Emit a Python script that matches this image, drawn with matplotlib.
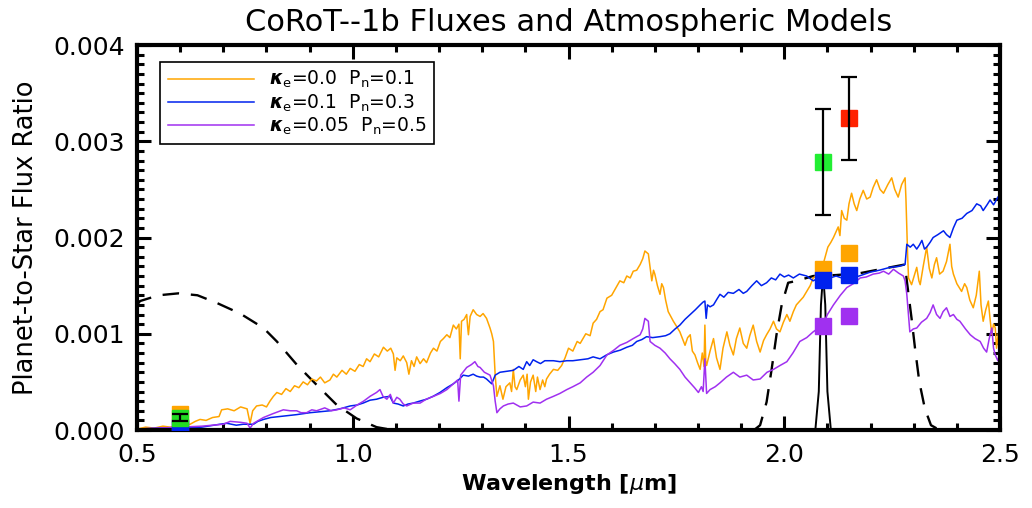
import numpy as np
import matplotlib
matplotlib.use("Agg")
import matplotlib.pyplot as plt
from matplotlib.ticker import MultipleLocator, FormatStrFormatter

# model spectra: (wavelength [um], flux ratio [1e-3])
spec_k00 = np.array([
    (0.500, 0.01), (0.520, 0.03), (0.540, 0.02), (0.560, 0.04), (0.577, 0.03), (0.600, 0.05),
    (0.623, 0.06), (0.635, 0.09), (0.646, 0.11), (0.660, 0.10), (0.675, 0.13), (0.690, 0.14),
    (0.696, 0.21), (0.710, 0.22), (0.725, 0.20), (0.740, 0.24), (0.755, 0.22), (0.762, 0.07),
    (0.768, 0.20), (0.777, 0.25), (0.790, 0.26), (0.800, 0.24), (0.808, 0.30), (0.816, 0.35),
    (0.824, 0.39), (0.835, 0.37), (0.845, 0.43), (0.855, 0.40), (0.865, 0.46), (0.875, 0.44),
    (0.885, 0.50), (0.895, 0.47), (0.905, 0.53), (0.916, 0.51), (0.925, 0.55), (0.935, 0.49),
    (0.947, 0.52), (0.955, 0.58), (0.963, 0.55), (0.975, 0.62), (0.985, 0.58), (0.994, 0.64),
    (1.005, 0.61), (1.015, 0.68), (1.024, 0.66), (1.032, 0.74), (1.040, 0.71), (1.050, 0.79),
    (1.060, 0.76), (1.071, 0.86), (1.080, 0.82), (1.088, 0.85), (1.094, 0.79), (1.098, 0.62),
    (1.102, 0.75), (1.110, 0.72), (1.117, 0.77), (1.125, 0.70), (1.130, 0.58), (1.136, 0.72),
    (1.142, 0.66), (1.148, 0.76), (1.156, 0.69), (1.164, 0.74), (1.171, 0.70), (1.180, 0.80),
    (1.187, 0.85), (1.195, 0.82), (1.203, 0.92), (1.210, 0.95), (1.218, 0.99), (1.225, 0.96),
    (1.233, 1.09), (1.240, 1.05), (1.246, 1.10), (1.249, 0.74), (1.252, 1.13), (1.258, 1.15),
    (1.264, 1.20), (1.266, 1.08), (1.268, 0.99), (1.272, 1.18), (1.279, 1.25), (1.287, 1.20),
    (1.295, 1.18), (1.302, 1.21), (1.310, 1.16), (1.318, 1.06), (1.322, 1.00), (1.326, 0.92),
    (1.330, 0.57), (1.334, 0.35), (1.341, 0.46), (1.345, 0.38), (1.348, 0.32), (1.355, 0.45),
    (1.364, 0.49), (1.368, 0.40), (1.372, 0.63), (1.376, 0.45), (1.380, 0.42), (1.388, 0.52),
    (1.395, 0.57), (1.400, 0.45), (1.404, 0.58), (1.407, 0.32), (1.412, 0.50), (1.418, 0.57),
    (1.424, 0.40), (1.428, 0.55), (1.434, 0.42), (1.440, 0.52), (1.445, 0.45), (1.449, 0.53),
    (1.456, 0.58), (1.465, 0.63), (1.475, 0.62), (1.484, 0.67), (1.492, 0.75), (1.500, 0.85),
    (1.510, 0.82), (1.520, 0.92), (1.527, 0.90), (1.540, 1.00), (1.550, 0.98), (1.557, 1.11),
    (1.565, 1.15), (1.573, 1.23), (1.580, 1.25), (1.589, 1.37), (1.600, 1.40), (1.610, 1.48),
    (1.619, 1.55), (1.628, 1.53), (1.635, 1.60), (1.643, 1.58), (1.650, 1.65), (1.658, 1.66),
    (1.666, 1.72), (1.672, 1.78), (1.677, 1.86), (1.685, 1.83), (1.690, 1.65), (1.693, 1.55),
    (1.697, 1.66), (1.700, 1.62), (1.706, 1.50), (1.712, 1.41), (1.716, 1.52), (1.720, 1.48),
    (1.725, 1.35), (1.731, 1.23), (1.737, 1.18), (1.743, 1.13), (1.750, 1.08), (1.758, 1.02),
    (1.764, 0.95), (1.770, 0.88), (1.776, 0.96), (1.782, 0.99), (1.787, 0.82), (1.793, 0.78),
    (1.799, 0.70), (1.805, 0.63), (1.810, 0.80), (1.814, 0.66), (1.816, 1.09), (1.818, 0.72),
    (1.820, 0.67), (1.828, 0.82), (1.836, 0.95), (1.843, 0.75), (1.851, 0.63), (1.858, 0.85),
    (1.867, 1.02), (1.874, 0.88), (1.882, 0.78), (1.889, 0.95), (1.897, 1.06), (1.905, 0.90),
    (1.913, 0.85), (1.920, 0.98), (1.928, 1.09), (1.936, 0.92), (1.944, 0.81), (1.952, 0.93),
    (1.959, 0.99), (1.967, 1.05), (1.975, 1.13), (1.982, 1.05), (1.990, 1.02), (1.998, 1.12),
    (2.006, 1.20), (2.013, 1.13), (2.021, 1.23), (2.028, 1.30), (2.036, 1.34), (2.044, 1.38),
    (2.052, 1.44), (2.060, 1.50), (2.067, 1.58), (2.078, 1.62), (2.090, 1.72), (2.095, 1.80),
    (2.101, 1.90), (2.108, 1.95), (2.114, 2.00), (2.120, 2.06), (2.125, 2.11), (2.129, 2.02),
    (2.133, 2.28), (2.139, 2.20), (2.145, 2.18), (2.150, 2.35), (2.156, 2.46), (2.162, 2.35),
    (2.168, 2.28), (2.175, 2.40), (2.183, 2.49), (2.191, 2.40), (2.199, 2.42), (2.206, 2.52),
    (2.214, 2.60), (2.222, 2.50), (2.230, 2.46), (2.240, 2.55), (2.249, 2.62), (2.256, 2.50),
    (2.264, 2.42), (2.272, 2.55), (2.280, 2.62), (2.282, 2.40), (2.284, 2.11), (2.286, 1.80),
    (2.288, 1.58), (2.295, 1.51), (2.301, 1.60), (2.307, 1.69), (2.312, 1.55), (2.315, 1.51),
    (2.322, 1.70), (2.330, 1.90), (2.336, 1.68), (2.342, 1.58), (2.348, 1.72), (2.353, 1.79),
    (2.360, 1.62), (2.368, 1.65), (2.376, 1.75), (2.384, 1.93), (2.388, 1.70), (2.392, 1.62),
    (2.400, 1.52), (2.411, 1.44), (2.418, 1.52), (2.423, 1.48), (2.430, 1.35), (2.438, 1.27),
    (2.445, 1.40), (2.452, 1.65), (2.456, 1.30), (2.461, 1.13), (2.467, 1.25), (2.473, 1.34),
    (2.477, 1.15), (2.481, 0.99), (2.485, 1.10), (2.489, 1.06), (2.492, 0.85), (2.496, 1.00),
    (2.500, 0.92),
])

spec_k01 = np.array([
    (0.500, 0.01), (0.550, 0.02), (0.600, 0.02), (0.650, 0.03), (0.692, 0.06), (0.708, 0.07),
    (0.730, 0.05), (0.746, 0.06), (0.770, 0.06), (0.780, 0.09), (0.793, 0.11), (0.810, 0.13),
    (0.831, 0.14), (0.850, 0.15), (0.870, 0.16), (0.885, 0.17), (0.901, 0.18), (0.925, 0.19),
    (0.947, 0.20), (0.970, 0.22), (0.994, 0.25), (1.010, 0.26), (1.024, 0.28), (1.040, 0.31),
    (1.055, 0.32), (1.070, 0.34), (1.086, 0.35), (1.094, 0.28), (1.105, 0.27), (1.117, 0.25),
    (1.128, 0.27), (1.140, 0.28), (1.155, 0.30), (1.171, 0.32), (1.186, 0.35), (1.202, 0.39),
    (1.218, 0.44), (1.233, 0.48), (1.245, 0.52), (1.256, 0.57), (1.268, 0.56), (1.279, 0.58),
    (1.287, 0.56), (1.295, 0.55), (1.303, 0.55), (1.310, 0.53), (1.322, 0.48), (1.330, 0.57),
    (1.341, 0.60), (1.356, 0.61), (1.372, 0.62), (1.385, 0.66), (1.395, 0.63), (1.403, 0.71),
    (1.410, 0.67), (1.418, 0.73), (1.426, 0.71), (1.435, 0.69), (1.445, 0.72), (1.465, 0.72),
    (1.480, 0.71), (1.496, 0.72), (1.510, 0.72), (1.527, 0.73), (1.545, 0.74), (1.557, 0.76),
    (1.573, 0.74), (1.588, 0.78), (1.604, 0.81), (1.620, 0.83), (1.635, 0.86), (1.648, 0.88),
    (1.658, 0.92), (1.670, 0.94), (1.681, 0.97), (1.695, 0.96), (1.712, 0.97), (1.725, 0.98),
    (1.735, 1.00), (1.747, 1.05), (1.758, 1.09), (1.770, 1.15), (1.782, 1.20), (1.794, 1.25),
    (1.805, 1.30), (1.812, 1.33), (1.816, 1.34), (1.819, 1.16), (1.822, 1.30), (1.828, 1.28),
    (1.836, 1.30), (1.844, 1.36), (1.851, 1.41), (1.860, 1.38), (1.870, 1.43), (1.882, 1.42),
    (1.895, 1.46), (1.905, 1.42), (1.913, 1.44), (1.925, 1.50), (1.936, 1.55), (1.947, 1.50),
    (1.959, 1.53), (1.970, 1.58), (1.980, 1.56), (1.990, 1.62), (2.000, 1.59), (2.010, 1.61),
    (2.021, 1.58), (2.035, 1.62), (2.052, 1.60), (2.067, 1.55), (2.080, 1.58), (2.100, 1.57),
    (2.120, 1.60), (2.140, 1.57), (2.160, 1.58), (2.180, 1.61), (2.199, 1.64), (2.220, 1.66),
    (2.245, 1.69), (2.265, 1.70), (2.280, 1.72), (2.284, 1.93), (2.292, 1.90), (2.299, 1.93),
    (2.307, 1.88), (2.313, 1.92), (2.319, 1.97), (2.325, 1.88), (2.330, 1.90), (2.338, 1.95),
    (2.345, 2.00), (2.356, 2.03), (2.369, 2.07), (2.376, 2.03), (2.384, 2.00), (2.392, 2.10),
    (2.400, 2.18), (2.412, 2.20), (2.423, 2.25), (2.435, 2.28), (2.446, 2.35), (2.455, 2.33),
    (2.461, 2.28), (2.470, 2.34), (2.477, 2.39), (2.485, 2.34), (2.489, 2.37), (2.495, 2.42),
    (2.500, 2.44),
])

spec_k005 = np.array([
    (0.500, 0.01), (0.550, 0.02), (0.600, 0.03), (0.650, 0.04), (0.700, 0.06), (0.716, 0.09),
    (0.740, 0.08), (0.755, 0.07), (0.762, 0.02), (0.770, 0.07), (0.793, 0.13), (0.815, 0.17),
    (0.839, 0.21), (0.855, 0.20), (0.870, 0.20), (0.880, 0.18), (0.893, 0.18), (0.905, 0.21),
    (0.916, 0.20), (0.935, 0.23), (0.950, 0.20), (0.963, 0.21), (0.980, 0.23), (0.994, 0.21),
    (1.010, 0.26), (1.025, 0.30), (1.040, 0.35), (1.055, 0.39), (1.063, 0.42), (1.070, 0.35),
    (1.079, 0.32), (1.087, 0.37), (1.094, 0.28), (1.102, 0.34), (1.109, 0.32), (1.117, 0.27),
    (1.125, 0.25), (1.140, 0.28), (1.156, 0.28), (1.170, 0.32), (1.187, 0.35), (1.203, 0.38),
    (1.218, 0.42), (1.233, 0.48), (1.243, 0.52), (1.246, 0.30), (1.250, 0.57), (1.264, 0.65),
    (1.275, 0.68), (1.283, 0.71), (1.290, 0.66), (1.295, 0.65), (1.305, 0.60), (1.318, 0.57),
    (1.326, 0.46), (1.330, 0.30), (1.334, 0.18), (1.341, 0.22), (1.349, 0.25), (1.360, 0.27),
    (1.372, 0.28), (1.388, 0.24), (1.403, 0.25), (1.418, 0.29), (1.434, 0.28), (1.449, 0.32),
    (1.465, 0.35), (1.480, 0.38), (1.496, 0.42), (1.510, 0.45), (1.527, 0.49), (1.542, 0.55),
    (1.557, 0.60), (1.573, 0.67), (1.589, 0.78), (1.605, 0.83), (1.619, 0.88), (1.635, 0.91),
    (1.650, 0.95), (1.666, 0.99), (1.672, 1.05), (1.677, 1.16), (1.685, 1.13), (1.689, 0.92),
    (1.700, 0.88), (1.712, 0.85), (1.724, 0.80), (1.735, 0.74), (1.746, 0.69), (1.758, 0.63),
    (1.770, 0.55), (1.782, 0.49), (1.792, 0.44), (1.801, 0.39), (1.808, 0.45), (1.812, 0.40),
    (1.816, 0.74), (1.820, 0.38), (1.828, 0.42), (1.840, 0.45), (1.851, 0.49), (1.866, 0.55),
    (1.882, 0.60), (1.897, 0.55), (1.913, 0.57), (1.928, 0.52), (1.944, 0.53), (1.960, 0.60),
    (1.975, 0.63), (1.990, 0.67), (2.006, 0.71), (2.020, 0.80), (2.036, 0.92), (2.052, 0.96),
    (2.067, 1.02), (2.080, 1.06), (2.090, 1.10), (2.100, 1.20), (2.114, 1.30), (2.130, 1.40),
    (2.145, 1.48), (2.160, 1.52), (2.176, 1.58), (2.190, 1.59), (2.206, 1.62), (2.220, 1.63),
    (2.230, 1.65), (2.242, 1.62), (2.253, 1.67), (2.265, 1.63), (2.276, 1.60), (2.280, 1.55),
    (2.284, 1.41), (2.291, 1.02), (2.299, 1.05), (2.307, 1.06), (2.318, 1.12), (2.330, 1.16),
    (2.338, 1.22), (2.345, 1.30), (2.353, 1.20), (2.361, 1.16), (2.368, 1.23), (2.376, 1.27),
    (2.384, 1.18), (2.392, 1.20), (2.400, 1.15), (2.407, 1.13), (2.420, 1.05), (2.431, 0.99),
    (2.442, 0.95), (2.454, 0.92), (2.462, 0.85), (2.469, 0.81), (2.475, 0.95), (2.481, 1.06),
    (2.485, 0.85), (2.489, 0.78), (2.495, 0.72), (2.500, 0.80),
])

# filter transmission curves, scaled to the plot
lam_corot = [0.50, 0.507, 0.55, 0.596, 0.640, 0.685, 0.739, 0.793, 0.824, 0.870, 0.916,
             0.963, 1.009, 1.055, 1.080, 1.100]
resp_corot = [1.30, 1.34, 1.40, 1.42, 1.40, 1.32, 1.21, 1.06, 0.92, 0.68, 0.47,
              0.26, 0.12, 0.03, 0.01, 0.00]
lam_ks = [1.930, 1.944, 1.959, 1.971, 1.982, 1.994, 2.009, 2.029, 2.067, 2.120, 2.176,
          2.245, 2.280, 2.284, 2.295, 2.303, 2.313, 2.326, 2.340, 2.360]
resp_ks = [0.00, 0.05, 0.29, 0.64, 0.99, 1.30, 1.53, 1.55, 1.60, 1.61, 1.63,
           1.69, 1.72, 1.55, 1.16, 0.85, 0.50, 0.22, 0.05, 0.00]
lam_nb = [2.060, 2.072, 2.080, 2.085, 2.090, 2.095, 2.100, 2.108, 2.120]
resp_nb = [0.00, 0.00, 0.40, 1.30, 1.62, 1.30, 0.40, 0.00, 0.00]

# band-integrated model values at the observed bands
band_lam = [0.60, 2.09, 2.15]
band_k00 = [0.17, 1.67, 1.84]
band_k01 = [0.02, 1.56, 1.61]
band_k005 = [0.03, 1.08, 1.18]

# observed eclipse depths
obs_lam = [0.60, 2.09, 2.15]
obs_depth = [0.126, 2.78, 3.24]
obs_err = [0.036, 0.55, 0.43]
obs_color = ["#22dd22", "#22ee33", "#ff2200"]

c_k00 = "#ffa500"
c_k01 = "#0022ee"
c_k005 = "#a030f0"
scale = 1e-3

fig = plt.figure(figsize=(10.32, 5.08), dpi=100)
ax = fig.add_axes([0.1328, 0.1535, 0.8362, 0.7579])

ax.plot(np.array(lam_corot), np.array(resp_corot) * scale, color="black", lw=1.7,
        dashes=(7, 5))
ax.plot(np.array(lam_ks), np.array(resp_ks) * scale, color="black", lw=1.7, dashes=(7, 5))
ax.plot(np.array(lam_nb), np.array(resp_nb) * scale, color="black", lw=1.4)

ax.plot(spec_k00[:, 0], spec_k00[:, 1] * scale, color=c_k00, lw=1.1,
        label=r"$\boldsymbol{\kappa}_{\rm e}$=0.0  P$_{\rm n}$=0.1")
ax.plot(spec_k01[:, 0], spec_k01[:, 1] * scale, color=c_k01, lw=1.1,
        label=r"$\boldsymbol{\kappa}_{\rm e}$=0.1  P$_{\rm n}$=0.3")
ax.plot(spec_k005[:, 0], spec_k005[:, 1] * scale, color=c_k005, lw=1.1,
        label=r"$\boldsymbol{\kappa}_{\rm e}$=0.05  P$_{\rm n}$=0.5")

ax.plot(band_lam, np.array(band_k00) * scale, "s", color=c_k00, ms=12, zorder=5)
ax.plot(band_lam, np.array(band_k005) * scale, "s", color=c_k005, ms=12, zorder=5)
ax.plot(band_lam, np.array(band_k01) * scale, "s", color=c_k01, ms=12, zorder=5)

for lam, d, e, c in zip(obs_lam, obs_depth, obs_err, obs_color):
    ax.plot(lam, d * scale, "s", color=c, ms=12, zorder=6)
    ax.errorbar(lam, d * scale, yerr=e * scale, color="black", lw=1.6, capsize=6,
                capthick=1.6, zorder=7)

ax.set_xlim(0.5, 2.5)
ax.set_ylim(0.0, 0.004)
ax.xaxis.set_major_locator(MultipleLocator(0.5))
ax.xaxis.set_minor_locator(MultipleLocator(0.1))
ax.yaxis.set_major_locator(MultipleLocator(0.001))
ax.yaxis.set_minor_locator(MultipleLocator(0.0001))
ax.xaxis.set_major_formatter(FormatStrFormatter("%.1f"))
ax.yaxis.set_major_formatter(FormatStrFormatter("%.3f"))
ax.tick_params(which="both", direction="in", top=True, right=True, width=2.2,
               labelsize=18)
ax.tick_params(which="major", length=10, pad=9)
ax.tick_params(which="minor", length=5)
for sp in ax.spines.values():
    sp.set_linewidth(3)

ax.set_xlabel(r"Wavelength [$\mu$m]", fontsize=16, fontweight="bold", labelpad=4)
ax.set_ylabel("Planet-to-Star Flux Ratio", fontsize=18.5, labelpad=10)
ax.set_title("CoRoT--1b Fluxes and Atmospheric Models", fontsize=22, pad=10)

leg = ax.legend(loc="upper left", bbox_to_anchor=(0.027, 0.957), borderaxespad=0,
                fontsize=13.5, handlelength=4.6, labelspacing=0.1, borderpad=0.4,
                fancybox=False, framealpha=1, edgecolor="black")
leg.get_frame().set_linewidth(1.2)

fig.savefig("out.png", dpi=100)
